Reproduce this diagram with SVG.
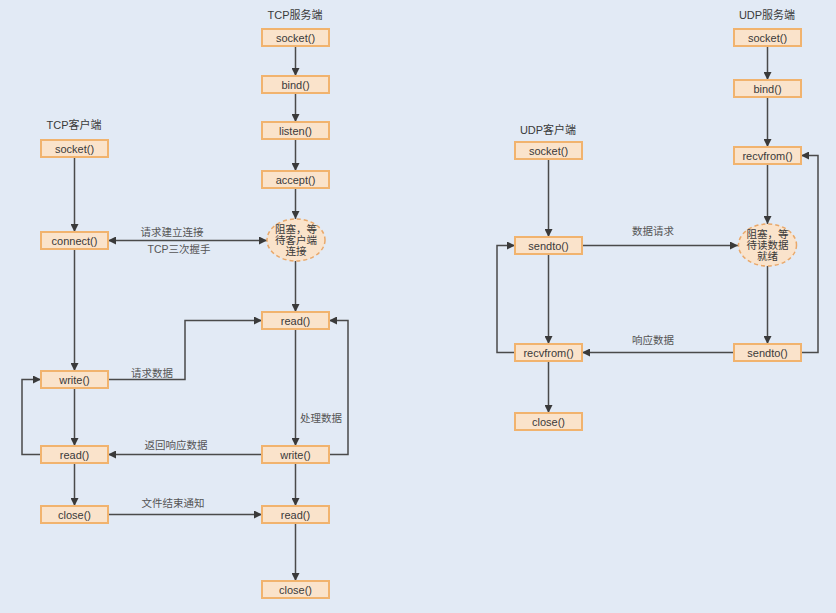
<svg xmlns="http://www.w3.org/2000/svg" width="836" height="613" viewBox="0 0 836 613">
<style>
text{font-family:"Liberation Sans","Noto Sans CJK SC",sans-serif;fill:#444}
.b rect{fill:#fae3cb;stroke:#f1b36e;stroke-width:2}
.b text{font-size:11px;text-anchor:middle;fill:#3a3a3a}
.e ellipse{fill:#fae3cb;stroke:#e9a86a;stroke-width:1.5;stroke-dasharray:4 3}
.e text{font-size:10.5px;text-anchor:middle;fill:#3a3a3a}
.t{font-size:11px;text-anchor:middle;fill:#3a3a3a}
.l{font-size:10.5px;text-anchor:middle;fill:#555}
#conn path{fill:none;stroke:#4a4a4a;stroke-width:1.5}
</style>
<defs>
<marker id="a" viewBox="0 0 10 10" refX="10" refY="5" markerWidth="8" markerHeight="8" markerUnits="userSpaceOnUse" orient="auto-start-reverse">
<path d="M0,0 L10,5 L0,10 z" fill="#3a3a3a"/>
</marker>
</defs>
<rect width="836" height="613" fill="#e2eaf5"/>
<text class="t" x="295" y="19">TCP服务端</text>
<text class="t" x="74" y="129">TCP客户端</text>
<text class="t" x="767" y="19">UDP服务端</text>
<text class="t" x="548" y="134">UDP客户端</text>
<g id="conn">
<path d="M295.5,46 V76" marker-end="url(#a)"/>
<path d="M295.5,93 V122" marker-end="url(#a)"/>
<path d="M295.5,139 V171" marker-end="url(#a)"/>
<path d="M295.5,188 V219" marker-end="url(#a)"/>
<path d="M295.5,261 V312" marker-end="url(#a)"/>
<path d="M295.5,329 V446" marker-end="url(#a)"/>
<path d="M295.5,463 V506" marker-end="url(#a)"/>
<path d="M295.5,523 V581" marker-end="url(#a)"/>
<path d="M74.5,157 V232" marker-end="url(#a)"/>
<path d="M74.5,249 V371" marker-end="url(#a)"/>
<path d="M74.5,388 V446" marker-end="url(#a)"/>
<path d="M74.5,463 V506" marker-end="url(#a)"/>
<path d="M108,240.5 H267" marker-start="url(#a)" marker-end="url(#a)"/>
<path d="M108,379.5 H185 V320.5 H262" marker-end="url(#a)"/>
<path d="M329,454.5 H348 V320.5 H329" marker-end="url(#a)"/>
<path d="M262,454.5 H108" marker-end="url(#a)"/>
<path d="M41,454.5 H22 V379.5 H41" marker-end="url(#a)"/>
<path d="M108,514.5 H262" marker-end="url(#a)"/>
<path d="M767.5,46 V80" marker-end="url(#a)"/>
<path d="M767.5,97 V147" marker-end="url(#a)"/>
<path d="M767.5,164 V224" marker-end="url(#a)"/>
<path d="M767.5,266 V344" marker-end="url(#a)"/>
<path d="M548.5,159 V237" marker-end="url(#a)"/>
<path d="M548.5,254 V344" marker-end="url(#a)"/>
<path d="M548.5,361 V413" marker-end="url(#a)"/>
<path d="M582,245.5 H738" marker-end="url(#a)"/>
<path d="M734,352.5 H582" marker-end="url(#a)"/>
<path d="M515,352.5 H497 V245.5 H515" marker-end="url(#a)"/>
<path d="M801,352.5 H818 V155.5 H801" marker-end="url(#a)"/>
</g>
<text class="l" x="172" y="236">请求建立连接</text>
<text class="l" x="179" y="253">TCP三次握手</text>
<text class="l" x="152" y="377">请求数据</text>
<text class="l" x="321" y="422">处理数据</text>
<text class="l" x="176" y="449">返回响应数据</text>
<text class="l" x="173" y="507">文件结束通知</text>
<text class="l" x="653" y="235">数据请求</text>
<text class="l" x="653" y="344">响应数据</text>
<g id="ts_socket" class="b"><rect x="262" y="29" width="67" height="17"/><text x="295.5" y="41.5">socket()</text></g>
<g id="ts_bind" class="b"><rect x="262" y="76" width="67" height="17"/><text x="295.5" y="88.5">bind()</text></g>
<g id="ts_listen" class="b"><rect x="262" y="122" width="67" height="17"/><text x="295.5" y="134.5">listen()</text></g>
<g id="ts_accept" class="b"><rect x="262" y="171" width="67" height="17"/><text x="295.5" y="183.5">accept()</text></g>
<g id="ts_block" class="e"><ellipse cx="296" cy="240" rx="29" ry="21"/><text x="296" y="233">阻塞，等</text><text x="296" y="244">待客户端</text><text x="296" y="255">连接</text></g>
<g id="ts_read" class="b"><rect x="262" y="312" width="67" height="17"/><text x="295.5" y="324.5">read()</text></g>
<g id="ts_write" class="b"><rect x="262" y="446" width="67" height="17"/><text x="295.5" y="458.5">write()</text></g>
<g id="ts_read2" class="b"><rect x="262" y="506" width="67" height="17"/><text x="295.5" y="518.5">read()</text></g>
<g id="ts_close" class="b"><rect x="262" y="581" width="67" height="17"/><text x="295.5" y="593.5">close()</text></g>
<g id="tc_socket" class="b"><rect x="41" y="140" width="67" height="17"/><text x="74.5" y="152.5">socket()</text></g>
<g id="tc_connect" class="b"><rect x="41" y="232" width="67" height="17"/><text x="74.5" y="244.5">connect()</text></g>
<g id="tc_write" class="b"><rect x="41" y="371" width="67" height="17"/><text x="74.5" y="383.5">write()</text></g>
<g id="tc_read" class="b"><rect x="41" y="446" width="67" height="17"/><text x="74.5" y="458.5">read()</text></g>
<g id="tc_close" class="b"><rect x="41" y="506" width="67" height="17"/><text x="74.5" y="518.5">close()</text></g>
<g id="us_socket" class="b"><rect x="734" y="29" width="67" height="17"/><text x="767.5" y="41.5">socket()</text></g>
<g id="us_bind" class="b"><rect x="734" y="80" width="67" height="17"/><text x="767.5" y="92.5">bind()</text></g>
<g id="us_recvfrom" class="b"><rect x="734" y="147" width="67" height="17"/><text x="767.5" y="159.5">recvfrom()</text></g>
<g id="us_block" class="e"><ellipse cx="767.5" cy="245" rx="29" ry="21"/><text x="767.5" y="238">阻塞，等</text><text x="767.5" y="249">待读数据</text><text x="767.5" y="260">就绪</text></g>
<g id="us_sendto" class="b"><rect x="734" y="344" width="67" height="17"/><text x="767.5" y="356.5">sendto()</text></g>
<g id="uc_socket" class="b"><rect x="515" y="142" width="67" height="17"/><text x="548.5" y="154.5">socket()</text></g>
<g id="uc_sendto" class="b"><rect x="515" y="237" width="67" height="17"/><text x="548.5" y="249.5">sendto()</text></g>
<g id="uc_recvfrom" class="b"><rect x="515" y="344" width="67" height="17"/><text x="548.5" y="356.5">recvfrom()</text></g>
<g id="uc_close" class="b"><rect x="515" y="413" width="67" height="17"/><text x="548.5" y="425.5">close()</text></g>
</svg>
